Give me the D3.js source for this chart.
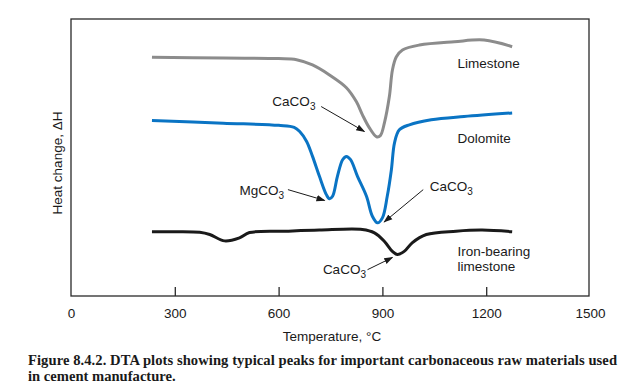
<!DOCTYPE html>
<html>
<head>
<meta charset="utf-8">
<script src="https://cdn.jsdelivr.net/npm/d3@7"></script>
<style>
  body { margin:0; background:#fff; }
  svg text { font-family: "Liberation Sans", Arial, sans-serif; }
</style>
</head>
<body>
<div id="chart"></div>
<script>
// temperatures (°C) and heat change (arbitrary units, 0 = bottom of frame, 100 = top)
var limestoneT = [234, 440, 600, 652, 698, 747, 796, 825, 842, 862, 883, 894, 906, 920, 929, 940, 958, 1007, 1108, 1194, 1275];
var limestoneH = [86.2, 85.9, 85.7, 85.3, 83.4, 79.8, 75.2, 70.1, 65.5, 60.8, 57.5, 57.9, 62.6, 71.9, 81.6, 86.3, 88.8, 90.6, 91.8, 92.4, 90.0];

var dolomiteT = [234, 440, 600, 645, 661, 681, 698, 718, 738, 747, 756, 770, 785, 796, 808, 828, 854, 871, 886, 900, 914, 926, 935, 949, 978, 1041, 1136, 1275];
var dolomiteH = [63.4, 62.4, 61.6, 60.9, 59.4, 55.8, 50.4, 43.2, 36.6, 35.1, 36.0, 43.2, 49.2, 50.4, 49.2, 43.2, 36.0, 28.8, 26.4, 28.2, 36.0, 45.6, 55.3, 60.0, 61.8, 63.6, 64.8, 66.1];

var ironT = [234, 300, 372, 401, 444, 487, 516, 620, 718, 842, 877, 906, 929, 943, 963, 986, 1027, 1113, 1188, 1275];
var ironH = [23.2, 23.2, 23.0, 22.2, 19.9, 21.0, 22.9, 23.4, 23.8, 24.0, 22.8, 19.7, 16.1, 15.0, 16.1, 19.2, 22.2, 23.4, 23.8, 23.2];

var xTicks = [0, 300, 600, 900, 1200, 1500];

var seriesNames = ["Limestone", "Dolomite", "Iron-bearing limestone"];

// annotations : text, text position (T,H), arrow start, arrow end
var annotFormula = ["CaCO", "MgCO", "CaCO", "CaCO"];
var annotTextT = [582, 487, 1037, 728];
var annotTextH = [68.6, 36.6, 37.8, 8.0];
var arrowFromT = [723, 627, 1018, 857];
var arrowFromH = [68.4, 38.4, 38.4, 9.5];
var arrowToT = [848, 733, 905, 929];
var arrowToH = [59.4, 34.5, 26.7, 13.9];

var width = 635, height = 391;
var mLeft = 71, mRight = 589, mTop = 19, mBottom = 296;

var svg = d3.select("#chart").append("svg")
  .attr("width", width).attr("height", height);

var x = d3.scaleLinear().domain([0, 1500]).range([mLeft, 590]);
var y = d3.scaleLinear().domain([0, 100]).range([mBottom, mTop]);

// arrow head
svg.append("defs").append("marker")
  .attr("id", "head").attr("viewBox", "0 0 10 10")
  .attr("refX", 9).attr("refY", 5)
  .attr("markerWidth", 9).attr("markerHeight", 9)
  .attr("markerUnits", "userSpaceOnUse")
  .attr("orient", "auto")
  .append("path").attr("d", "M0,1.5 L10,5 L0,8.5 Z").attr("fill", "#1a1a1a");

// frame
svg.append("rect")
  .attr("x", mLeft).attr("y", mTop)
  .attr("width", mRight - mLeft).attr("height", mBottom - mTop)
  .attr("fill", "none").attr("stroke", "#2a2a2a").attr("stroke-width", 1.3);

// x axis, ticks inward
var xAxis = d3.axisBottom(x).tickValues(xTicks).tickFormat(d3.format("d"))
  .tickSizeInner(-9).tickSizeOuter(0).tickPadding(12);
var gx = svg.append("g").attr("transform", "translate(0," + mBottom + ")").call(xAxis);
gx.select(".domain").remove();
gx.selectAll(".tick line").attr("stroke", "#2a2a2a").attr("stroke-width", 1.3)
  .filter(function(d){ return d == 0 || d == 1500; }).remove();
gx.selectAll(".tick text").attr("font-size", "13.5px").attr("fill", "#1a1a1a")
  .attr("font-family", "Liberation Sans, Arial, sans-serif");

svg.append("text").attr("x", 332).attr("y", 341)
  .attr("text-anchor", "middle").attr("font-size", "13.5px").attr("fill", "#1a1a1a")
  .text("Temperature, °C");

svg.append("text").attr("transform", "translate(62,163) rotate(-90)")
  .attr("text-anchor", "middle").attr("font-size", "13.5px").attr("fill", "#1a1a1a")
  .text("Heat change, \u0394H");

// curves
var line = d3.line()
  .x(function(d){ return x(d[0]); })
  .y(function(d){ return y(d[1]); })
  .curve(d3.curveCatmullRom.alpha(0.5));

var curves = [
  {t: limestoneT, h: limestoneH, color: "#8c8c8c"},
  {t: dolomiteT, h: dolomiteH, color: "#0a74c4"},
  {t: ironT, h: ironH, color: "#1a1a1a"}
];
curves.forEach(function(c){
  svg.append("path")
    .datum(d3.zip(c.t, c.h))
    .attr("fill", "none").attr("stroke", c.color)
    .attr("stroke-width", 3).attr("stroke-linejoin", "round").attr("stroke-linecap", "butt")
    .attr("d", line);
});

// series labels
var lab = svg.append("g").attr("font-size", "13.5px").attr("fill", "#1a1a1a");
lab.append("text").attr("x", x(1117)).attr("y", y(82.3)).text(seriesNames[0]);
lab.append("text").attr("x", x(1117)).attr("y", y(55.3)).text(seriesNames[1]);
lab.append("text").attr("x", x(1117)).attr("y", y(14.6)).text("Iron-bearing");
lab.append("text").attr("x", x(1117)).attr("y", y(8.9)).text("limestone");

// annotations
for (var i = 0; i < annotFormula.length; i++) {
  var t = lab.append("text")
    .attr("x", x(annotTextT[i])).attr("y", y(annotTextH[i]));
  t.append("tspan").text(annotFormula[i]);
  t.append("tspan").attr("dy", 4).attr("font-size", "10px").text("3");

  svg.append("line")
    .attr("x1", x(arrowFromT[i])).attr("y1", y(arrowFromH[i]))
    .attr("x2", x(arrowToT[i])).attr("y2", y(arrowToH[i]))
    .attr("stroke", "#1a1a1a").attr("stroke-width", 1)
    .attr("marker-end", "url(#head)");
}

// caption
var cap = svg.append("g")
  .attr("font-weight", "bold").attr("font-size", "14.6px").attr("fill", "#1a1a1a");
cap.append("text").attr("x", 28).attr("y", 365)
  .style("font-family", "Liberation Serif, serif")
  .attr("textLength", 589).attr("lengthAdjust", "spacing")
  .text("Figure 8.4.2. DTA plots showing typical peaks for important carbonaceous raw materials used");
cap.append("text").attr("x", 28).attr("y", 381)
  .style("font-family", "Liberation Serif, serif")
  .text("in cement manufacture.");
</script>
</body>
</html>
